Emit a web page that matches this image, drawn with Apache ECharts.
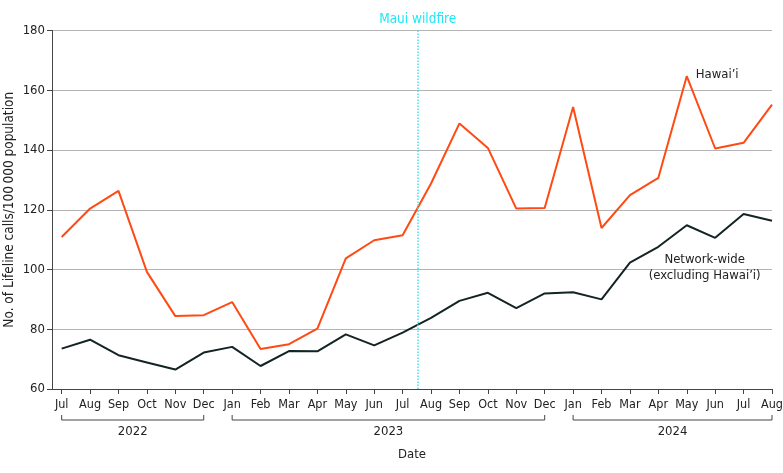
<!DOCTYPE html>
<html>
<head>
<meta charset="utf-8">
<script src="https://cdn.jsdelivr.net/npm/echarts@6/dist/echarts.min.js"></script>
<style>
  html, body { margin: 0; padding: 0; background: #fff; }
  #chart { width: 783px; height: 473px; }
</style>
</head>
<body>
<div id="chart"></div>
<script>
// months Jul 2022 .. Aug 2024
const months = ['Jul', 'Aug', 'Sep', 'Oct', 'Nov', 'Dec',
  'Jan', 'Feb', 'Mar', 'Apr', 'May', 'Jun', 'Jul', 'Aug', 'Sep', 'Oct', 'Nov', 'Dec',
  'Jan', 'Feb', 'Mar', 'Apr', 'May', 'Jun', 'Jul', 'Aug']
const hawaii = [110.9, 120.4, 126.3, 99.2, 84.4, 84.7,
  89.1, 73.4, 75.0, 80.2, 103.7, 109.8, 111.5, 128.8, 148.9, 140.7, 120.4, 120.6,
  154.4, 113.9, 124.9, 130.7, 164.7, 140.5, 142.4, 155.2]
const network = [73.5, 76.5, 71.3, 68.9, 66.5, 72.2,
  74.1, 67.7, 72.7, 72.6, 78.3, 74.6, 78.9, 83.8, 89.5, 92.2, 87.1, 92.0,
  92.4, 90.0, 102.3, 107.6, 114.8, 110.6, 118.6, 116.3]
const years = ['2022', '2023', '2024']
const yearStart = [0, 6, 18]
const yearEnd = [5, 17, 25]
const wildfire = 12.53   // early Aug 2023

const font = '"DejaVu Sans Condensed", "DejaVu Sans", sans-serif'
const idx = months.map((m, i) => i)

const chart = echarts.init(document.getElementById('chart'))

chart.setOption({
  animation: false,
  textStyle: { fontFamily: font },
  grid: { left: 52, right: 11, top: 30.5, bottom: 84, containLabel: false, outerBoundsMode: 'none' },
  xAxis: {
    type: 'value',
    min: -0.34,
    max: 25,
    name: 'Date',
    nameLocation: 'middle',
    nameGap: 59,
    nameMoveOverlap: false,
    nameTextStyle: { fontFamily: font, fontSize: 13, color: '#222' },
    axisLine: { onZero: false, lineStyle: { color: '#444', width: 1 } },
    axisTick: { customValues: idx, length: 5, lineStyle: { color: '#444' } },
    axisLabel: {
      customValues: idx,
      formatter: v => months[Math.round(v)],
      fontFamily: font, fontSize: 12.5, color: '#222', margin: 9
    },
    splitLine: { show: false }
  },
  yAxis: {
    type: 'value',
    min: 60,
    max: 180,
    interval: 20,
    name: 'No. of Lifeline calls/100\u2009000 population',
    nameLocation: 'middle',
    nameGap: 36,
    nameMoveOverlap: false,
    nameTextStyle: { fontFamily: font, fontSize: 13.5, color: '#222' },
    axisLine: { show: true, onZero: false, lineStyle: { color: '#444' } },
    axisTick: { show: true, length: 5, lineStyle: { color: '#444' } },
    axisLabel: { fontFamily: font, fontSize: 13, color: '#222', margin: 7 },
    splitLine: { lineStyle: { color: '#b4b4b4', width: 1 } }
  },
  series: [
    {
      name: 'Hawai’i',
      type: 'line',
      data: hawaii.map((v, i) => [i, v]),
      symbol: 'none',
      lineStyle: { color: '#ff4a14', width: 2 },
      z: 3,
      markLine: {
        silent: true,
        symbol: 'none',
        lineStyle: { color: '#3fe6f2', type: [1.5, 1.5], width: 1.5 },
        label: {
          show: true, position: 'end', formatter: 'Maui wildfire',
          color: '#1ee8f6', fontFamily: font, fontSize: 13.5, distance: 4
        },
        data: [{ xAxis: wildfire }]
      }
    },
    {
      name: 'Network-wide',
      type: 'line',
      data: network.map((v, i) => [i, v]),
      symbol: 'none',
      lineStyle: { color: '#142424', width: 2 },
      z: 3
    }
  ]
})

// year brackets and line labels, placed through the axes
const baseY = 420
const graphics = []
years.forEach((y, k) => {
  const x0 = chart.convertToPixel({ xAxisIndex: 0 }, yearStart[k])
  const x1 = chart.convertToPixel({ xAxisIndex: 0 }, yearEnd[k])
  graphics.push({
    type: 'polyline',
    shape: { points: [[x0, baseY - 5], [x0, baseY], [x1, baseY], [x1, baseY - 5]] },
    style: { stroke: '#444', lineWidth: 1, fill: null }
  })
  graphics.push({
    type: 'text', x: (x0 + x1) / 2, y: baseY + 12,
    style: { text: y, font: '13px ' + font, fill: '#222', align: 'center', verticalAlign: 'middle' }
  })
})
const hPos = chart.convertToPixel({ gridIndex: 0 }, [23.07, 165.1])
graphics.push({
  type: 'text', x: hPos[0], y: hPos[1],
  style: { text: 'Hawai’i', font: '13px ' + font, fill: '#222', align: 'center', verticalAlign: 'middle' }
})
const nPos = chart.convertToPixel({ gridIndex: 0 }, [22.63, 100.5])
graphics.push({
  type: 'text', x: nPos[0], y: nPos[1],
  style: { text: 'Network-wide\n(excluding Hawai’i)', font: '13px ' + font, fill: '#222',
    align: 'center', verticalAlign: 'middle', lineHeight: 16 }
})
chart.setOption({ graphic: graphics })
</script>
</body>
</html>
